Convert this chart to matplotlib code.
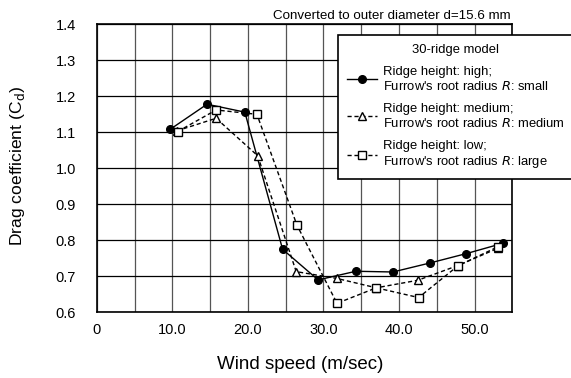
import matplotlib
matplotlib.use("Agg")
import matplotlib.pyplot as plt
from matplotlib.ticker import MultipleLocator, FuncFormatter

plt.rcParams['font.family'] = ['Liberation Sans', 'DejaVu Sans']

# wind speed (m/sec) and drag coefficient for each model
speed_high = [9.7, 14.6, 19.6, 24.6, 29.3, 34.3, 39.2, 44.1, 48.9, 53.8]
cd_high = [1.108, 1.178, 1.156, 0.775, 0.690, 0.714, 0.712, 0.737, 0.763, 0.792]

speed_medium = [10.6, 15.8, 21.3, 26.4, 31.8, 37.0, 42.5, 47.8, 53.1]
cd_medium = [1.104, 1.139, 1.035, 0.713, 0.694, 0.668, 0.689, 0.730, 0.778]

speed_low = [10.7, 15.8, 21.2, 26.5, 31.8, 37.0, 42.6, 47.8, 53.1]
cd_low = [1.102, 1.162, 1.150, 0.842, 0.625, 0.668, 0.641, 0.729, 0.782]

labels = [
    "Ridge height: high;\nFurrow's root radius $\\it{R}$: small",
    "Ridge height: medium;\nFurrow's root radius $\\it{R}$: medium",
    "Ridge height: low;\nFurrow's root radius $\\it{R}$: large",
]

fig = plt.figure(figsize=(5.71, 3.78), dpi=100)
ax = fig.add_axes([0.1694, 0.1738, 0.7278, 0.7619])

ax.plot(speed_high, cd_high, '-', color='black', lw=1.0, marker='o',
        ms=5.5, mfc='black', mec='black', label=labels[0], zorder=3)
ax.plot(speed_medium, cd_medium, '--', color='black', lw=1.0, marker='^',
        ms=6, mfc='white', mec='black', dashes=(3, 2), label=labels[1], zorder=3)
ax.plot(speed_low, cd_low, '--', color='black', lw=1.0, marker='s',
        ms=6, mfc='white', mec='black', dashes=(3, 2), label=labels[2], zorder=3)

ax.set_xlim(0, 55)
ax.set_ylim(0.6, 1.4)
ax.xaxis.set_major_locator(MultipleLocator(10))
ax.xaxis.set_minor_locator(MultipleLocator(5))
ax.yaxis.set_major_locator(MultipleLocator(0.1))
ax.xaxis.set_major_formatter(FuncFormatter(lambda v, p: "0" if v == 0 else "%.1f" % v))
ax.yaxis.set_major_formatter(FuncFormatter(lambda v, p: "%.1f" % v))
ax.tick_params(which='both', length=0, labelsize=10.5)
ax.tick_params(axis='x', pad=8)
ax.tick_params(axis='y', pad=15)

ax.grid(True, which='both', axis='x', color='#555555', lw=0.9)
ax.grid(True, which='major', axis='y', color='black', lw=0.9)
ax.set_axisbelow(True)
for s in ax.spines.values():
    s.set_linewidth(1.2)

ax.set_xlabel("Wind speed (m/sec)", fontsize=13.5)
ax.xaxis.set_label_coords(0.49, -0.152)
ax.set_ylabel("Drag coefficient (C$_\\mathrm{d}$)", fontsize=12.6)
ax.yaxis.set_label_coords(-0.168, 0.51)

fig.text(0.8944, 0.9497, "Converted to outer diameter d=15.6 mm", fontsize=9.6,
         ha='right', va='baseline')

leg = fig.legend(loc='upper left', bbox_to_anchor=(0.5915, 0.9074), borderaxespad=0,
                 title="30-ridge model", fontsize=9.4, title_fontsize=9.4,
                 numpoints=1, handlelength=2.3, handletextpad=0.46,
                 labelspacing=0.75, fancybox=False, framealpha=1,
                 edgecolor='black', borderpad=0.7)
leg.get_frame().set_linewidth(1.2)

fig.savefig("out.png", dpi=100)
